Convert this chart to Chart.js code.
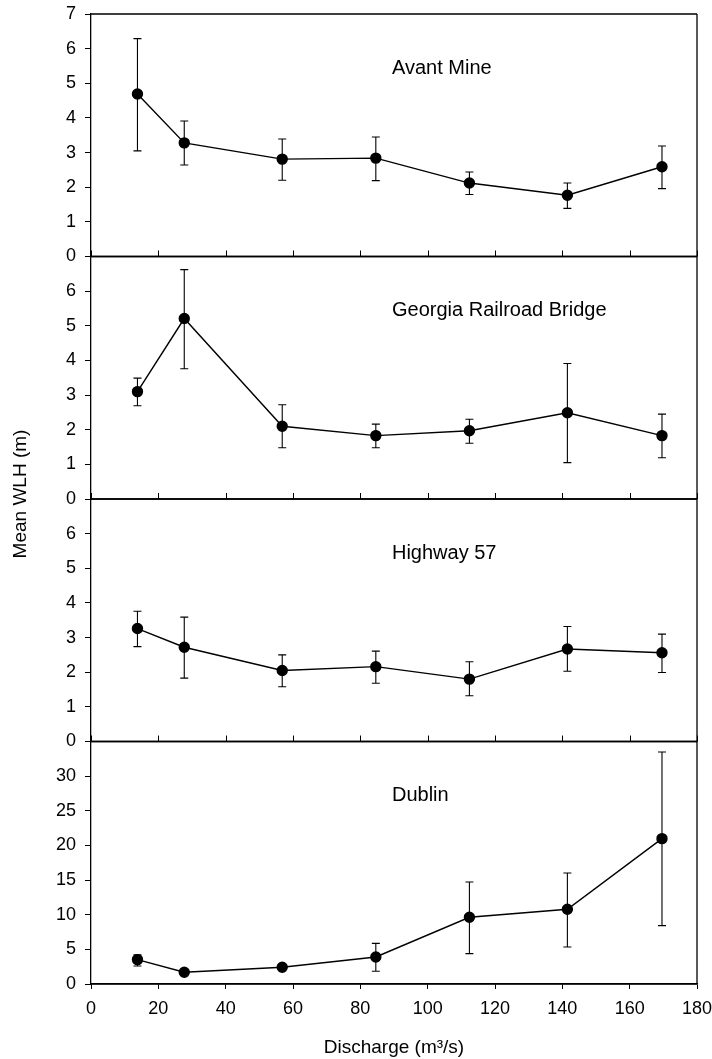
<!DOCTYPE html>
<html>
<head>
<meta charset="utf-8">
<script src="https://cdn.jsdelivr.net/npm/chart.js@4.4.1/dist/chart.umd.min.js"></script>
<style>
  html, body { margin: 0; padding: 0; background: #fff; }
</style>
</head>
<body>
<canvas id="chart" width="712" height="1059"></canvas>
<script>
// discharge (m3/s) at each sampling level
const discharge = [13.8, 27.7, 56.8, 84.6, 112.4, 141.5, 169.6];

const siteNames = ["Avant Mine", "Georgia Railroad Bridge", "Highway 57", "Dublin"];

// mean WLH (m) and error bar ends for each site
const avantMean = [4.69, 3.28, 2.81, 2.84, 2.12, 1.77, 2.59];
const avantLow  = [3.05, 2.64, 2.20, 2.19, 1.79, 1.39, 1.96];
const avantHigh = [6.29, 3.91, 3.39, 3.45, 2.44, 2.12, 3.19];

const georgiaMean = [3.10, 5.21, 2.10, 1.83, 1.97, 2.49, 1.83];
const georgiaLow  = [2.69, 3.76, 1.48, 1.48, 1.61, 1.05, 1.19];
const georgiaHigh = [3.49, 6.62, 2.72, 2.16, 2.30, 3.91, 2.45];

const highwayMean = [3.26, 2.72, 2.05, 2.16, 1.80, 2.67, 2.56];
const highwayLow  = [2.74, 1.83, 1.58, 1.68, 1.32, 2.03, 1.99];
const highwayHigh = [3.76, 3.59, 2.50, 2.61, 2.30, 3.32, 3.10];

const dublinMean = [3.52, 1.69, 2.41, 3.90, 9.63, 10.78, 20.98];
const dublinLow  = [2.60, 1.40, 2.10, 1.83, 4.38, 5.34, 8.43];
const dublinHigh = [4.20, 2.00, 2.70, 5.87, 14.72, 16.02, 33.48];

const xTicks = [0, 20, 40, 60, 80, 100, 120, 140, 160, 180];
const smallTicks = [0, 1, 2, 3, 4, 5, 6, 7];
const dublinTicks = [0, 5, 10, 15, 20, 25, 30, 35];

const FONT = "'Liberation Sans', Arial, sans-serif";
const axisIds = ["y1", "y2", "y3", "y4"];
const means = [avantMean, georgiaMean, highwayMean, dublinMean];
const lows = [avantLow, georgiaLow, highwayLow, dublinLow];
const highs = [avantHigh, georgiaHigh, highwayHigh, dublinHigh];
// where the site name sits, in data units of each panel
const labelAt = [[89.4, 5.44], [89.4, 5.45], [89.4, 5.43], [89.4, 27.2]];

const datasets = means.map((m, i) => ({
  label: siteNames[i],
  data: m.map((v, j) => ({ x: discharge[j], y: v })),
  yAxisID: axisIds[i],
  borderColor: "#000",
  borderWidth: 1.4,
  pointRadius: 5,
  pointBackgroundColor: "#000",
  pointBorderColor: "#000",
  pointHoverRadius: 5,
  fill: false,
  tension: 0
}));

function yAxis(i, max, ticks, showTop) {
  return {
    type: "linear",
    position: "left",
    stack: "panels",
    stackWeight: 1,
    weight: 4 - i,
    min: 0,
    max: max,
    afterBuildTicks: s => { s.ticks = ticks.map(v => ({ value: v })); },
    afterFit: s => { s.width = 91; s.paddingTop = 0; s.paddingBottom = 0; },
    ticks: {
      color: "#000",
      font: { family: FONT, size: 18 },
      padding: 9,
      autoSkip: false,
      callback: v => (v === max && !showTop) ? "" : v
    },
    grid: { drawOnChartArea: false, drawTicks: true, tickLength: 6, color: "#000", lineWidth: 1 },
    border: { display: true, color: "#000", width: 1.3 }
  };
}

const panelPlugin = {
  id: "panels",
  beforeDatasetsDraw(chart) {
    const ctx = chart.ctx;
    const x = chart.scales.x;
    ctx.save();
    ctx.strokeStyle = "#000";
    ctx.lineWidth = 1.1;
    axisIds.forEach((id, i) => {
      const y = chart.scales[id];
      for (let j = 0; j < discharge.length; j++) {
        const px = x.getPixelForValue(discharge[j]);
        const lo = y.getPixelForValue(lows[i][j]);
        const hi = y.getPixelForValue(highs[i][j]);
        ctx.beginPath();
        ctx.moveTo(px, lo); ctx.lineTo(px, hi);
        ctx.moveTo(px - 4, lo); ctx.lineTo(px + 4, lo);
        ctx.moveTo(px - 4, hi); ctx.lineTo(px + 4, hi);
        ctx.stroke();
      }
    });
    ctx.restore();
  },
  afterDraw(chart) {
    const ctx = chart.ctx;
    const x = chart.scales.x;
    const area = chart.chartArea;
    ctx.save();
    ctx.strokeStyle = "#000";
    ctx.lineWidth = 1.3;
    axisIds.forEach((id, i) => {
      const y = chart.scales[id];
      ctx.beginPath();
      ctx.moveTo(area.left, y.top); ctx.lineTo(area.right, y.top);
      ctx.moveTo(area.left, y.bottom); ctx.lineTo(area.right, y.bottom);
      ctx.stroke();
      if (i < 3) {
        ctx.beginPath();
        xTicks.forEach(t => {
          const px = Math.round(x.getPixelForValue(t)) + 0.5;
          ctx.moveTo(px, y.bottom); ctx.lineTo(px, y.bottom - 6);
        });
        ctx.lineWidth = 1;
        ctx.stroke();
        ctx.lineWidth = 1.3;
      }
      ctx.fillStyle = "#000";
      ctx.font = "20px " + FONT;
      ctx.textAlign = "left";
      ctx.textBaseline = "middle";
      ctx.fillText(siteNames[i], x.getPixelForValue(labelAt[i][0]), y.getPixelForValue(labelAt[i][1]));
    });
    ctx.beginPath();
    ctx.moveTo(area.right, area.top); ctx.lineTo(area.right, area.bottom);
    ctx.stroke();

    ctx.translate(21, 494);
    ctx.rotate(-Math.PI / 2);
    ctx.textAlign = "center";
    ctx.font = "19px " + FONT;
    ctx.fillText("Mean WLH (m)", 0, 0);
    ctx.restore();
  }
};

new Chart(document.getElementById("chart").getContext("2d"), {
  type: "line",
  data: { datasets },
  options: {
    responsive: false,
    animation: false,
    events: [],
    layout: { padding: { top: 14, right: 15, bottom: 0, left: 0 } },
    plugins: { legend: { display: false }, tooltip: { enabled: false } },
    scales: {
      x: {
        type: "linear",
        position: "bottom",
        min: 0,
        max: 180,
        afterBuildTicks: s => { s.ticks = xTicks.map(v => ({ value: v })); },
        afterFit: s => { s.height = 75; s.paddingLeft = 0; s.paddingRight = 0; },
        ticks: { color: "#000", font: { family: FONT, size: 18 }, padding: 9, maxRotation: 0, autoSkip: false },
        grid: { drawOnChartArea: false, drawTicks: true, tickLength: 5, color: "#000" },
        border: { display: true, color: "#000", width: 1.3 },
        title: {
          display: true,
          text: "Discharge (m³/s)",
          color: "#000",
          font: { family: FONT, size: 19 },
          padding: { top: 16, bottom: 0 }
        }
      },
      y1: yAxis(0, 7, smallTicks, true),
      y2: yAxis(1, 7, smallTicks, false),
      y3: yAxis(2, 7, smallTicks, false),
      y4: yAxis(3, 35, dublinTicks, false)
    }
  },
  plugins: [panelPlugin]
});
</script>
</body>
</html>
